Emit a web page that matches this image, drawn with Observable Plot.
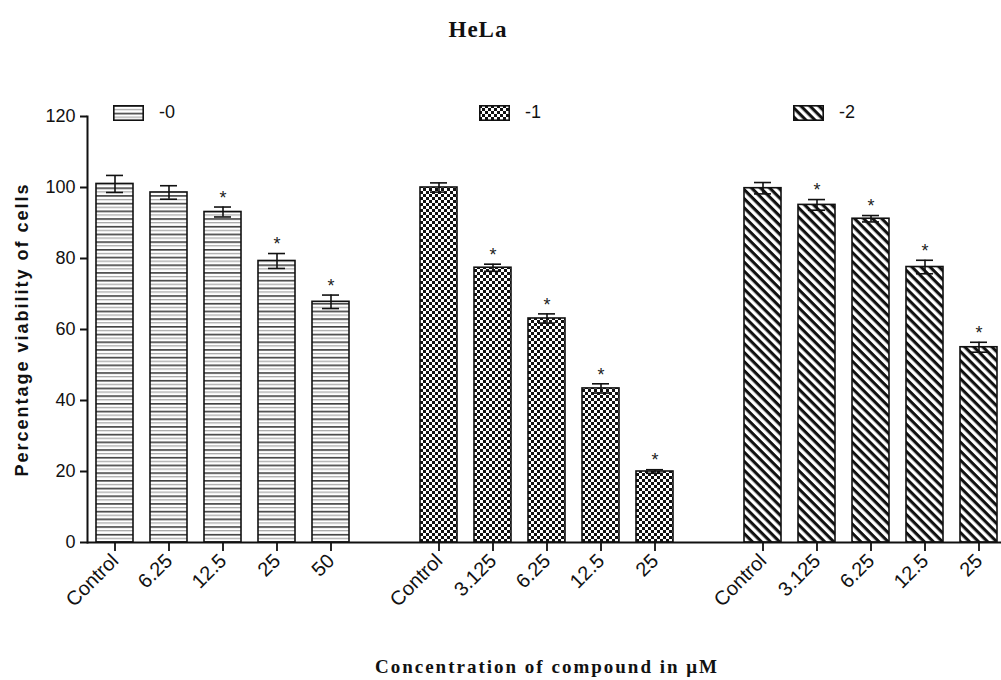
<!DOCTYPE html>
<html><head><meta charset="utf-8">
<script src="https://cdn.jsdelivr.net/npm/d3@7"></script>
<script src="https://cdn.jsdelivr.net/npm/@observablehq/plot@0.6"></script>
<style>
body{margin:0;background:#fff;}
#wrap{position:relative;width:1001px;height:680px;overflow:hidden;background:#fff;font-family:"Liberation Sans",Arial,sans-serif;}
#title{height:95px;box-sizing:border-box;padding-top:18px;padding-right:45px;text-align:center;font-family:"Liberation Serif","Times New Roman",serif;font-weight:bold;font-size:23px;letter-spacing:1px;line-height:24px;color:#111;}
#chart svg{display:block;}
#caption{margin-top:12px;padding-left:93px;text-align:center;font-family:"Liberation Serif","Times New Roman",serif;font-weight:bold;font-size:19px;letter-spacing:2px;color:#111;line-height:20px;}
.leg{position:absolute;top:102px;display:flex;align-items:center;gap:15px;font-size:18px;color:#111;}
.leg svg{display:block;}
#chart [aria-label="y-axis label"] text{font-weight:bold;font-size:18px;letter-spacing:2px;fill:#111;}
#chart [aria-label="y-axis tick label"]{font-size:18px;fill:#111;}
#chart [aria-label="x-axis tick label"]{font-size:20px;fill:#111;}
</style></head>
<body>
<svg width="0" height="0" style="position:absolute">
  <defs>
    <pattern id="pat0" patternUnits="userSpaceOnUse" width="8" height="7.7">
      <rect width="8" height="7.7" fill="#fff"/>
      <rect y="0.2" width="8" height="1.3" fill="#111"/>
      <rect y="4" width="8" height="1.1" fill="#9a9a9a"/>
    </pattern>
    <pattern id="pat1" patternUnits="userSpaceOnUse" width="6" height="6">
      <rect width="6" height="6" fill="#fff"/>
      <rect x="0" y="0" width="3" height="3" fill="#111"/>
      <rect x="3" y="3" width="3" height="3" fill="#111"/>
    </pattern>
    <pattern id="pat2" patternUnits="userSpaceOnUse" width="6.4" height="6.4" patternTransform="rotate(45)">
      <rect width="6.4" height="6.4" fill="#fff"/>
      <rect x="0" y="0" width="6.4" height="3.1" fill="#111"/>
    </pattern>
  </defs>
</svg>
<div id="wrap">
  <div id="title">HeLa</div>
  <div id="chart"></div>
  <div id="caption">Concentration of compound in μM</div>
</div>
<script>
// ---- data ----
const groups = ["-0", "-1", "-2"];
const doses0 = ["Control", "6.25", "12.5", "25", "50"];
const doses1 = ["Control", "3.125", "6.25", "12.5", "25"];
const doses2 = ["Control", "3.125", "6.25", "12.5", "25"];
const viability0 = [101.0, 98.6, 93.1, 79.3, 67.8];
const sem0 = [2.4, 1.9, 1.4, 2.1, 1.9];
const viability1 = [100.0, 77.4, 63.1, 43.4, 20.0];
const sem1 = [1.3, 1.0, 1.3, 1.3, 0.5];
const viability2 = [99.8, 95.1, 91.2, 77.6, 55.0];
const sem2 = [1.6, 1.5, 0.9, 1.9, 1.4];
const significant0 = [false, false, true, true, true];
const significant1 = [false, true, true, true, true];
const significant2 = [false, true, true, true, true];
const yTicks = [0, 20, 40, 60, 80, 100, 120];
const patterns = ["url(#pat0)", "url(#pat1)", "url(#pat2)"];

const series = [
  [doses0, viability0, sem0, significant0],
  [doses1, viability1, sem1, significant1],
  [doses2, viability2, sem2, significant2]
];
const table = [];
const domain = [];
groups.forEach((g, gi) => {
  if (gi > 0) domain.push("gap" + gi);
  const [doses, vals, sems, sigs] = series[gi];
  doses.forEach((d, i) => {
    const key = g + " " + d;
    domain.push(key);
    table.push({group: g, gi, dose: d, key, value: vals[i], sem: sems[i], sig: sigs[i]});
  });
});
const labelOf = new Map(table.map(r => [r.key, r.dose]));

const chart = Plot.plot({
  width: 1001,
  height: 550,
  marginTop: 21,
  marginBottom: 103,
  marginLeft: 87,
  marginRight: 0,
  style: {fontFamily: "Liberation Sans, Arial, sans-serif", fontSize: "16px", color: "#111", background: "white", overflow: "visible"},
  x: {domain, range: [87.3, 1006.3], paddingInner: 0.316, paddingOuter: 0.158, axis: null},
  y: {domain: [0, 120], axis: null},
  marks: [
    ...groups.map((g, gi) => Plot.barY(table.filter(r => r.gi === gi), {
      x: "key", y: "value", fill: patterns[gi], stroke: "#111", strokeWidth: 1.6
    })),
    Plot.ruleX(table, {x: "key", y1: r => r.value - r.sem, y2: r => r.value + r.sem, stroke: "#111", strokeWidth: 1.6}),
    Plot.tickY(table, {x: "key", y: r => r.value + r.sem, inset: 10, stroke: "#111", strokeWidth: 1.6}),
    Plot.tickY(table, {x: "key", y: r => r.value - r.sem, inset: 10, stroke: "#111", strokeWidth: 1.6}),
    Plot.text(table.filter(r => r.sig), {x: "key", y: r => r.value + r.sem, text: () => "*", dy: -9, fontSize: 18, fill: "#222"}),
    Plot.ruleY([0], {stroke: "#111", strokeWidth: 2}),
    Plot.axisY({ticks: yTicks, tickSize: 7, tickPadding: 5, label: "Percentage viability of cells", labelAnchor: "center", labelArrow: "none", labelOffset: 72, strokeWidth: 2, fontSize: 18}),
    Plot.axisX({ticks: table.map(r => r.key), tickFormat: k => labelOf.get(k), tickRotate: -45, tickSize: 9, tickPadding: 6, label: null, strokeWidth: 1.8, fontSize: 20}),
    Plot.frame({anchor: "left", stroke: "#111", strokeWidth: 2})
  ]
});
document.getElementById("chart").appendChild(chart);

// legend
const legendLeft = [113, 479, 793];
const wrap = document.getElementById("wrap");
groups.forEach((g, gi) => {
  const item = document.createElement("div");
  item.className = "leg";
  item.style.left = legendLeft[gi] + "px";
  item.innerHTML = `<svg width="31" height="16"><rect x="0.8" y="0.8" width="29.4" height="14.4" fill="${patterns[gi]}" stroke="#111" stroke-width="1.6"/></svg><span>${g}</span>`;
  wrap.appendChild(item);
});
</script>
</body></html>
